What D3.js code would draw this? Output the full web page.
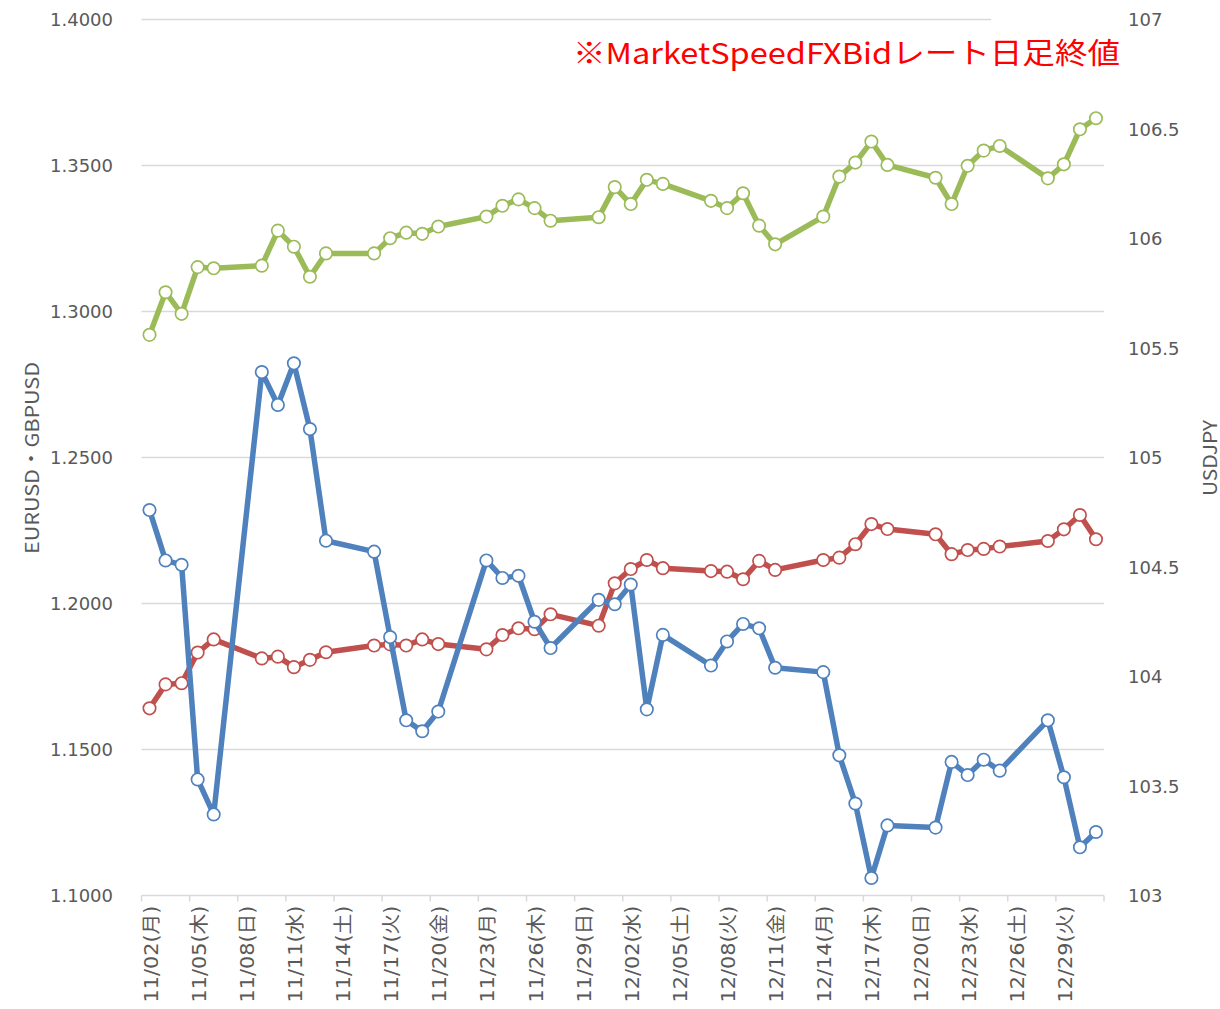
<!DOCTYPE html>
<html>
<head>
<meta charset="utf-8">
<script src="https://cdn.jsdelivr.net/npm/d3@7"></script>
<style>
  body { margin: 0; background: #fff; }
  svg { display: block; }
</style>
</head>
<body>
<svg id="chart" width="1220" height="1009"></svg>
<script>
// trading days (2020)
const dates = ["11/02","11/03","11/04","11/05","11/06","11/09","11/10","11/11","11/12","11/13",
  "11/16","11/17","11/18","11/19","11/20","11/23","11/24","11/25","11/26","11/27",
  "11/30","12/01","12/02","12/03","12/04","12/07","12/08","12/09","12/10","12/11",
  "12/14","12/15","12/16","12/17","12/18","12/21","12/22","12/23","12/24","12/25",
  "12/28","12/29","12/30","12/31"];

const gbpusd = [1.2920,1.3066,1.2992,1.3152,1.3148,1.3157,1.3277,1.3222,1.3119,1.3199,
  1.3199,1.3251,1.3270,1.3266,1.3291,1.3325,1.3362,1.3384,1.3354,1.3311,
  1.3323,1.3426,1.3368,1.3451,1.3437,1.3379,1.3354,1.3405,1.3294,1.3230,
  1.3325,1.3462,1.3510,1.3582,1.3502,1.3458,1.3368,1.3499,1.3551,1.3567,
  1.3456,1.3504,1.3624,1.3662];

const eurusd = [1.1641,1.1723,1.1727,1.1832,1.1877,1.1812,1.1818,1.1782,1.1807,1.1833,
  1.1856,1.1860,1.1856,1.1877,1.1861,1.1843,1.1892,1.1915,1.1912,1.1963,
  1.1924,1.2069,1.2118,1.2149,1.2121,1.2111,1.2109,1.2083,1.2146,1.2115,
  1.2149,1.2157,1.2203,1.2272,1.2255,1.2237,1.2169,1.2183,1.2187,1.2195,
  1.2214,1.2254,1.2303,1.2220];

const usdjpy = [104.76,104.53,104.51,103.53,103.37,105.39,105.24,105.43,105.13,104.62,
  104.57,104.18,103.80,103.75,103.84,104.53,104.45,104.46,104.25,104.13,
  104.35,104.33,104.42,103.85,104.19,104.05,104.16,104.24,104.22,104.04,
  104.02,103.64,103.42,103.08,103.32,103.31,103.61,103.55,103.62,103.57,
  103.80,103.54,103.22,103.29];

const tickLabels = ["11/02(月)","11/05(木)","11/08(日)","11/11(水)","11/14(土)","11/17(火)",
  "11/20(金)","11/23(月)","11/26(木)","11/29(日)","12/02(水)","12/05(土)","12/08(火)",
  "12/11(金)","12/14(月)","12/17(木)","12/20(日)","12/23(水)","12/26(土)","12/29(火)"];

const leftTicks = [1.10, 1.15, 1.20, 1.25, 1.30, 1.35, 1.40];
const rightTicks = [103, 103.5, 104, 104.5, 105, 105.5, 106, 106.5, 107];

const title = "※MarketSpeedFXBidレート日足終値";

let svg = d3.select("svg#chart");
let margin = { "top": 19.5, "right": 116, "bottom": 113.5, "left": 141.5 };
let width = +svg.attr("width");
let height = +svg.attr("height");

// every calendar day is a category (Excel date axis)
let fmt = d3.timeFormat("%m/%d");
let days = d3.timeDay.range(new Date(2020, 10, 2), new Date(2021, 0, 1)).map(fmt);

let xScale = d3.scaleBand().domain(days).range([margin.left, width - margin.right]);
let yLeft = d3.scaleLinear().domain([1.10, 1.40]).range([height - margin.bottom, margin.top]);
let yRight = d3.scaleLinear().domain([103, 107]).range([height - margin.bottom, margin.top]);
let xc = d => xScale(d) + xScale.bandwidth() / 2;

let numFont = "'DejaVu Sans', Verdana, sans-serif";
let jpFont = "'Noto Sans CJK JP', sans-serif";

// gridlines
svg.append("g").selectAll("line")
  .data(leftTicks.slice(1))
  .join("line")
    .attr("x1", margin.left)
    .attr("x2", width - margin.right)
    .attr("y1", d => yLeft(d))
    .attr("y2", d => yLeft(d))
    .attr("stroke", "#d9d9d9")
    .attr("stroke-width", 1.5);

// bottom axis line + ticks every 3 days
let x0 = margin.left, x1 = width - margin.right, yb = yLeft(1.10);
svg.append("line")
  .attr("x1", x0).attr("x2", x1).attr("y1", yb).attr("y2", yb)
  .attr("stroke", "#d9d9d9").attr("stroke-width", 1.5);

let tickPos = tickLabels.map(t => xScale(t.slice(0, 5))).concat([x1]);
svg.append("g").selectAll("line")
  .data(tickPos)
  .join("line")
    .attr("x1", d => d).attr("x2", d => d)
    .attr("y1", yb).attr("y2", yb + 6)
    .attr("stroke", "#d9d9d9").attr("stroke-width", 1.5);

// x labels
svg.append("g").selectAll("text")
  .data(tickLabels)
  .join("text")
    .attr("transform", d => "translate(" + (xc(d.slice(0, 5)) + 1) + "," + (yb + 10) + ") rotate(-90)")
    .attr("text-anchor", "end")
    .attr("dominant-baseline", "central")
    .attr("font-family", numFont + ", " + jpFont)
    .attr("font-size", 19)
    .attr("textLength", 97)
    .attr("lengthAdjust", "spacingAndGlyphs")
    .attr("fill", "#595959")
    .text(d => d);

// left labels
svg.append("g").selectAll("text")
  .data(leftTicks)
  .join("text")
    .attr("x", 113)
    .attr("y", d => yLeft(d))
    .attr("text-anchor", "end")
    .attr("dominant-baseline", "central")
    .attr("font-family", numFont)
    .attr("font-size", 18)
    .attr("fill", "#595959")
    .text(d => d.toFixed(4));

// right labels
svg.append("g").selectAll("text")
  .data(rightTicks)
  .join("text")
    .attr("x", 1128)
    .attr("y", d => yRight(d))
    .attr("dominant-baseline", "central")
    .attr("font-family", numFont)
    .attr("font-size", 18)
    .attr("fill", "#595959")
    .text(d => d);

// axis titles
svg.append("text")
  .attr("transform", "translate(30,458) rotate(-90)")
  .attr("text-anchor", "middle")
  .attr("dominant-baseline", "central")
  .attr("font-family", jpFont)
  .attr("font-size", 19)
  .attr("textLength", 192)
  .attr("lengthAdjust", "spacingAndGlyphs")
  .attr("fill", "#595959")
  .text("EURUSD・GBPUSD");

svg.append("text")
  .attr("transform", "translate(1208,458) rotate(-90)")
  .attr("text-anchor", "middle")
  .attr("dominant-baseline", "central")
  .attr("font-family", jpFont)
  .attr("font-size", 19)
  .attr("textLength", 76)
  .attr("lengthAdjust", "spacingAndGlyphs")
  .attr("fill", "#595959")
  .text("USDJPY");

// series
function drawSeries(values, yScale, color) {
  let pts = dates.map((d, i) => [xc(d), yScale(values[i])]);
  svg.append("path")
    .attr("d", d3.line()(pts))
    .attr("fill", "none")
    .attr("stroke", color)
    .attr("stroke-width", 5.5)
    .attr("stroke-linejoin", "round")
    .attr("stroke-linecap", "round");
  svg.append("g").selectAll("circle")
    .data(pts)
    .join("circle")
      .attr("cx", p => p[0])
      .attr("cy", p => p[1])
      .attr("r", 6.2)
      .attr("fill", "#fff")
      .attr("stroke", color)
      .attr("stroke-width", 1.7);
}

drawSeries(gbpusd, yLeft, "#9bbb59");
drawSeries(eurusd, yLeft, "#c0504d");
drawSeries(usdjpy, yRight, "#4f81bd");

// note text box (white background covers the top gridline on the right)
svg.append("rect")
  .attr("x", 991).attr("y", 12).attr("width", 125).attr("height", 14)
  .attr("fill", "#fff");
svg.append("text")
  .attr("x", 1120)
  .attr("y", 51)
  .attr("text-anchor", "end")
  .attr("dominant-baseline", "central")
  .attr("font-family", jpFont)
  .attr("font-size", 29)
  .attr("textLength", 547)
  .attr("lengthAdjust", "spacingAndGlyphs")
  .attr("fill", "#ff0000")
  .text(title);
</script>
</body>
</html>
